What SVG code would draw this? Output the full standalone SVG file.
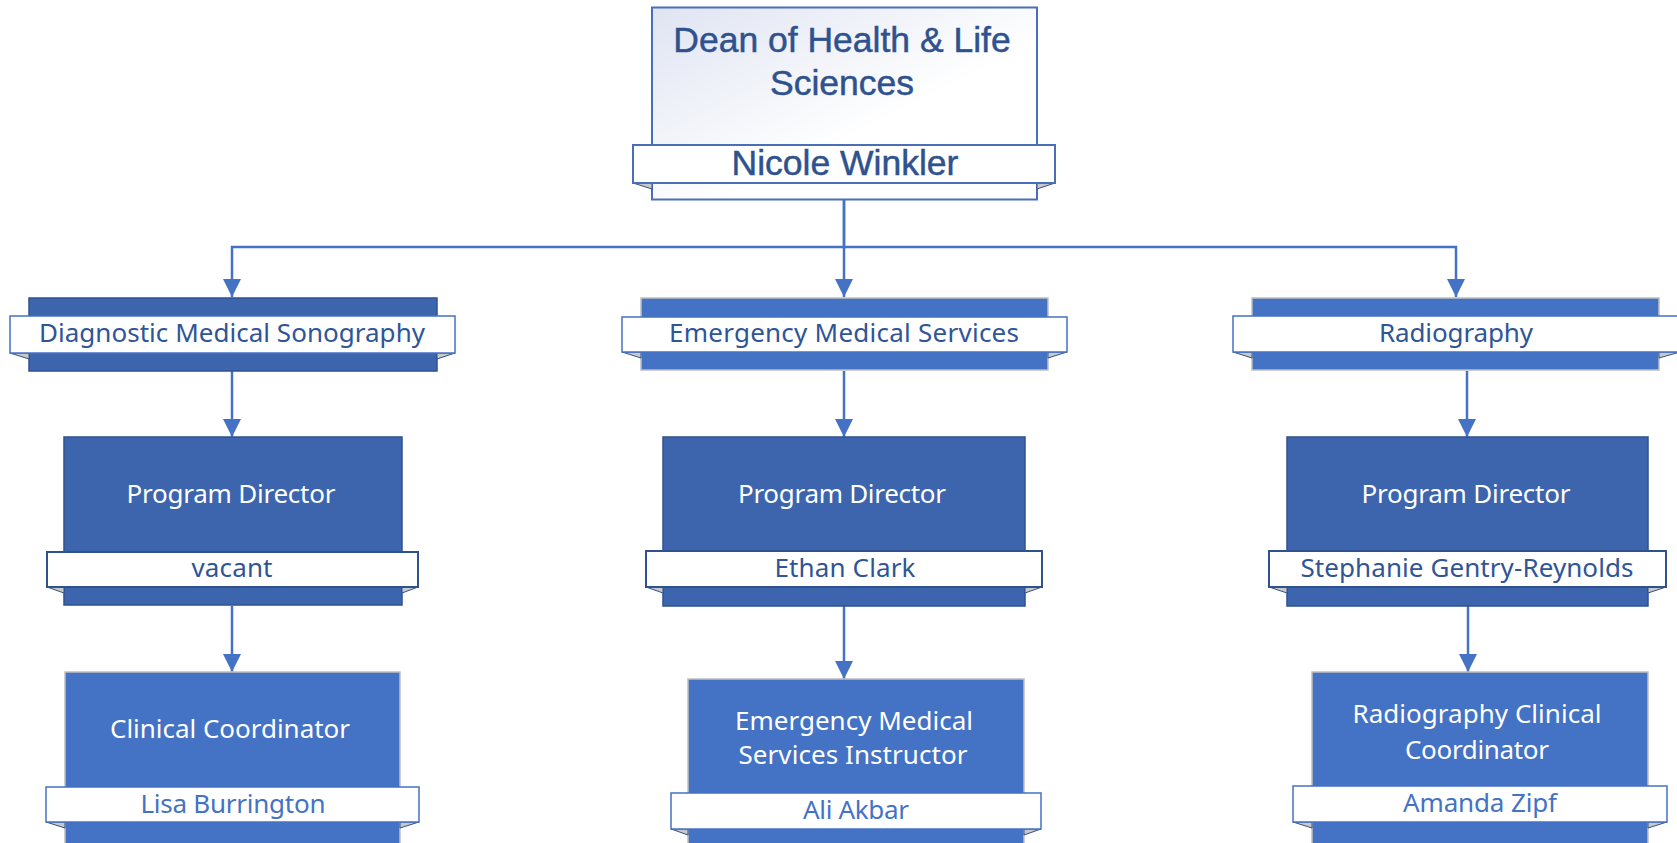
<svg xmlns="http://www.w3.org/2000/svg" width="1677" height="843" viewBox="0 0 1677 843">
<defs>
<linearGradient id="deanGrad" x1="0" y1="0" x2="1" y2="1">
<stop offset="0" stop-color="#dfe4f2"/>
<stop offset="0.6" stop-color="#ffffff"/>
</linearGradient>
<marker id="arr" markerUnits="userSpaceOnUse" markerWidth="18" markerHeight="18" refX="18" refY="9" orient="auto">
<path d="M0,0 L18,9 L0,18 z" fill="#4472C4"/>
</marker>
<style>
.conn{fill:none;stroke:#4472C4;stroke-width:2.5}
.dark{fill:#3D65AE;stroke:#2F528F;stroke-width:1.5}
.light{fill:#4472C4;stroke:#BFBFBF;stroke-width:1.5}
.bandL{fill:#ffffff;stroke:#4472C4;stroke-width:1.5}
.bandD{fill:#ffffff;stroke:#2F528F;stroke-width:2}
.fold{fill:#C8C8C8;stroke:#2F528F;stroke-width:1}
.t{font-family:"Noto Sans","Open Sans",sans-serif;font-size:26px;text-anchor:middle}
.w{fill:#ffffff}
.db{fill:#2F5597}
.lb{fill:#4472C4}
.dean{font-family:"Liberation Sans",Arial,sans-serif;font-size:35.5px;fill:#2F528F;stroke:#2F528F;stroke-width:0.5;text-anchor:middle}
</style>
</defs>
<g id="connectors">
<path class="conn" d="M844,200 V247 H232 V297" marker-end="url(#arr)"/>
<path class="conn" d="M844,200 V297" marker-end="url(#arr)"/>
<path class="conn" d="M844,247 H1456 V297" marker-end="url(#arr)"/>
<path class="conn" d="M232,371 V437" marker-end="url(#arr)"/>
<path class="conn" d="M844,371 V437" marker-end="url(#arr)"/>
<path class="conn" d="M1467,371 V437" marker-end="url(#arr)"/>
<path class="conn" d="M232,606 V672" marker-end="url(#arr)"/>
<path class="conn" d="M844,606 V679" marker-end="url(#arr)"/>
<path class="conn" d="M1468,606 V672" marker-end="url(#arr)"/>
</g>
<g id="dean">
<rect x="652" y="7.5" width="385" height="192" fill="url(#deanGrad)" stroke="#4A6FB8" stroke-width="2"/>
<polygon class="fold" points="633,183 652,183 652,189"/>
<polygon class="fold" points="1055,183 1037,183 1037,189"/>
<rect x="633" y="145" width="422" height="38" fill="#ffffff" stroke="#4A6FB8" stroke-width="2"/>
<text class="dean" x="842" y="52">Dean of Health &amp; Life</text>
<text class="dean" x="842" y="95">Sciences</text>
<text class="dean" x="845" y="175" font-size="36">Nicole Winkler</text>
</g>
<g id="dept-dms">
<rect class="dark" x="29" y="298" width="408" height="73"/>
<polygon class="fold" points="10,353 29,353 29,359"/>
<polygon class="fold" points="455,353 437,353 437,359"/>
<rect class="bandL" x="10" y="316" width="445" height="37"/>
<text class="t db" x="232" y="342" textLength="386">Diagnostic Medical Sonography</text>
</g>
<g id="dept-ems">
<rect class="light" x="641" y="298" width="407" height="72"/>
<polygon class="fold" points="622,352 641,352 641,358"/>
<polygon class="fold" points="1067,352 1048,352 1048,358"/>
<rect class="bandL" x="622" y="317" width="445" height="35"/>
<text class="t db" x="844" y="342" textLength="350">Emergency Medical Services</text>
</g>
<g id="dept-rad">
<rect class="light" x="1252" y="298" width="407" height="72"/>
<polygon class="fold" points="1233,352 1252,352 1252,358"/>
<polygon class="fold" points="1680,352 1659,352 1659,358"/>
<rect class="bandL" x="1233" y="316" width="447" height="36"/>
<text class="t db" x="1456" y="342" textLength="154">Radiography</text>
</g>
<g id="pd-dms">
<rect class="dark" x="64" y="437" width="338" height="168"/>
<polygon class="fold" points="47,587 64,587 64,593"/>
<polygon class="fold" points="418,587 402,587 402,593"/>
<rect class="bandD" x="47" y="552" width="371" height="35"/>
<text class="t w" x="231" y="503" textLength="209">Program Director</text>
<text class="t db" x="232" y="577" textLength="81">vacant</text>
</g>
<g id="pd-ems">
<rect class="dark" x="663" y="437" width="362" height="169"/>
<polygon class="fold" points="646,587 663,587 663,593"/>
<polygon class="fold" points="1042,587 1025,587 1025,593"/>
<rect class="bandD" x="646" y="551" width="396" height="36"/>
<text class="t w" x="842" y="503" textLength="208">Program Director</text>
<text class="t db" x="845" y="577" textLength="141">Ethan Clark</text>
</g>
<g id="pd-rad">
<rect class="dark" x="1287" y="437" width="361" height="169"/>
<polygon class="fold" points="1269,587 1287,587 1287,593"/>
<polygon class="fold" points="1666,587 1648,587 1648,593"/>
<rect class="bandD" x="1269" y="551" width="397" height="36"/>
<text class="t w" x="1466" y="503" textLength="209">Program Director</text>
<text class="t db" x="1467" y="577" textLength="333">Stephanie Gentry-Reynolds</text>
</g>
<g id="cc-dms">
<rect class="light" x="65" y="672" width="335" height="180"/>
<polygon class="fold" points="46,822 65,822 65,828"/>
<polygon class="fold" points="419,822 400,822 400,828"/>
<rect class="bandL" x="46" y="787" width="373" height="35"/>
<text class="t w" x="230" y="738" textLength="240">Clinical Coordinator</text>
<text class="t lb" x="233" y="813" textLength="185">Lisa Burrington</text>
</g>
<g id="inst-ems">
<rect class="light" x="688" y="679" width="336" height="180"/>
<polygon class="fold" points="671,829 688,829 688,835"/>
<polygon class="fold" points="1041,829 1024,829 1024,835"/>
<rect class="bandL" x="671" y="793" width="370" height="36"/>
<text class="t w" x="854" y="730" textLength="238">Emergency Medical</text>
<text class="t w" x="853" y="764" textLength="229">Services Instructor</text>
<text class="t lb" x="856" y="819" textLength="106">Ali Akbar</text>
</g>
<g id="cc-rad">
<rect class="light" x="1312" y="672" width="336" height="180"/>
<polygon class="fold" points="1293,822 1312,822 1312,828"/>
<polygon class="fold" points="1667,822 1648,822 1648,828"/>
<rect class="bandL" x="1293" y="786" width="374" height="36"/>
<text class="t w" x="1477" y="723" textLength="249">Radiography Clinical</text>
<text class="t w" x="1477" y="759" textLength="144">Coordinator</text>
<text class="t lb" x="1480" y="812" textLength="154">Amanda Zipf</text>
</g>
</svg>
